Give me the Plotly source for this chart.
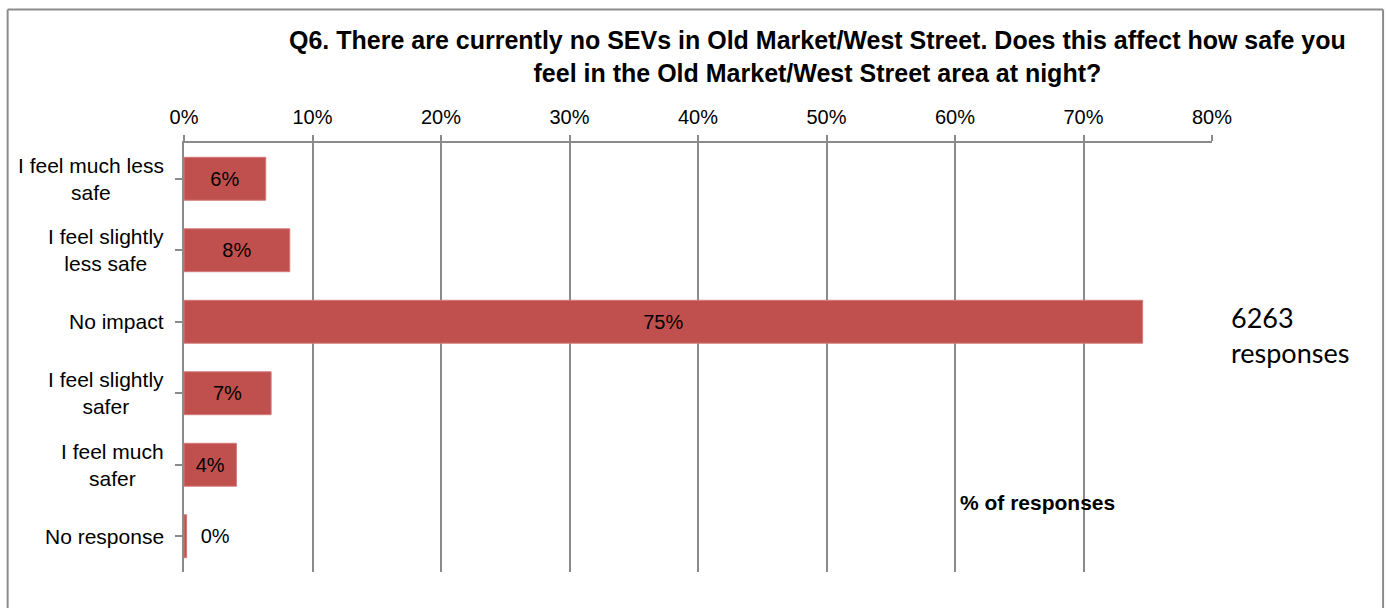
import plotly.graph_objects as go

categories = ["I feel much less<br>safe", "I feel slightly<br>less safe", "No impact",
              "I feel slightly<br>safer", "I feel much<br>safer", "No response"]
values = [6.36, 8.23, 74.6, 6.78, 4.08, 0.2]
x_ticks = [0, 10, 20, 30, 40, 50, 60, 70, 80]
title_text = ("Q6. There are currently no SEVs in Old Market/West Street. Does this affect how safe you"
              "<br>feel in the Old Market/West Street area at night?")
axis_title = "% of responses"
note_text = "6263<br>responses"

W, H = 1387, 608
L, R, T, B = 183.5, 1212.3, 143, 572
PW, PH = R - L, B - T

def px(x):
    return (x - L) / PW

def py(y):
    return (B - y) / PH

FONT = "Arial, Liberation Sans, sans-serif"
GRID = "#8a8a8a"

labels = []
positions = []
for v in values:
    if v > 2:
        labels.append(f"{round(v):d}%")
        positions.append("inside")
    else:
        labels.append("\u00a0\u00a0" + f"{round(v):d}%")
        positions.append("outside")

fig = go.Figure(go.Bar(
    y=list(range(len(categories))),
    x=values,
    orientation="h",
    width=0.6,
    marker=dict(color="#C0504D", line=dict(color="#D27B79", width=1)),
    text=labels,
    textposition=positions,
    insidetextanchor="middle",
    constraintext="none",
    cliponaxis=False,
    textfont=dict(family=FONT, size=20, color="black"),
    insidetextfont=dict(family=FONT, size=20, color="black"),
    outsidetextfont=dict(family=FONT, size=20, color="black"),
    hoverinfo="skip",
))

annotations = []
for i, c in enumerate(categories):
    annotations.append(dict(
        x=px(165), xref="paper", y=i, yref="y", text=c, showarrow=False,
        xanchor="right", yanchor="middle", align="center",
        font=dict(family=FONT, size=21, color="black"),
    ))
annotations.append(dict(
    x=px(817), xref="paper", y=py(57), yref="paper", text=f"<b>{title_text}</b>",
    showarrow=False, xanchor="center", yanchor="middle", align="center",
    font=dict(family=FONT, size=25, color="black"),
))
annotations.append(dict(
    x=px(958), xref="paper", y=py(502), yref="paper", text=f"<b>{axis_title}</b>",
    showarrow=False, xanchor="left", yanchor="middle",
    font=dict(family=FONT, size=21, color="black"),
))
annotations.append(dict(
    x=px(1229), xref="paper", y=py(335), yref="paper", text=note_text,
    showarrow=False, xanchor="left", yanchor="middle", align="left",
    font=dict(family="Lato, Carlito, sans-serif", size=27, color="black"),
))

BORDER = dict(color="#8c8c8c", width=2)
shapes = [
    dict(type="line", xref="paper", yref="paper", x0=px(7), x1=px(1383.5), y0=py(9.5), y1=py(9.5), line=BORDER),
    dict(type="line", xref="paper", yref="paper", x0=px(7), x1=px(7), y0=py(9.5), y1=py(614), line=BORDER),
    dict(type="line", xref="paper", yref="paper", x0=px(1383.5), x1=px(1383.5), y0=py(9.5), y1=py(614), line=BORDER),
]

fig.update_layout(
    width=W, height=H,
    margin=dict(l=L, r=W - R, t=T, b=H - B, pad=0),
    paper_bgcolor="white", plot_bgcolor="white",
    showlegend=False,
    annotations=annotations,
    shapes=shapes,
    xaxis=dict(
        side="top", range=[0, 80], tickvals=x_ticks,
        ticktext=[f"{t}%" for t in x_ticks],
        showgrid=True, gridcolor=GRID, gridwidth=2,
        showline=True, linecolor=GRID, linewidth=2,
        ticks="outside", ticklen=6, tickcolor=GRID, tickwidth=2,
        ticklabelstandoff=3,
        tickfont=dict(family=FONT, size=20, color="black"),
        zeroline=False, fixedrange=True,
    ),
    yaxis=dict(
        range=[len(categories) - 0.5, -0.5],
        tickvals=list(range(len(categories))),
        showticklabels=False, tickson="boundaries",
        ticks="outside", ticklen=7, tickcolor=GRID, tickwidth=2,
        showline=True, linecolor=GRID, linewidth=2,
        showgrid=False, zeroline=False, fixedrange=True,
    ),
)

fig.write_html("out.html", config={"displayModeBar": False},
               post_script="document.body.style.margin='0px';")
